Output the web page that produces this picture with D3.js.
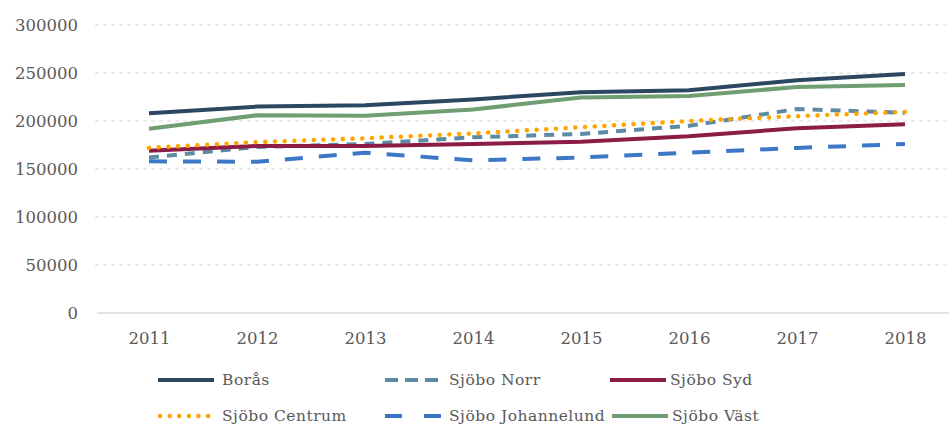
<!DOCTYPE html>
<html><head><meta charset="utf-8">
<script src="https://cdn.jsdelivr.net/npm/d3@7"></script>
<style>body{margin:0;background:#fff}svg{display:block}</style>
</head><body><svg id="c" width="949" height="427"></svg>
<script>
const years = ["2011","2012","2013","2014","2015","2016","2017","2018"];
const yTicks = [0,50000,100000,150000,200000,250000,300000];
const boras       = [208000,215000,216500,222500,230000,232000,242500,249000];
const sjoboNorr   = [162000,173000,176000,183000,186500,195000,212500,208500];
const sjoboSyd    = [169000,174000,174000,176000,178500,184000,192500,196500];
const sjoboCentrum= [172000,178000,182000,187000,193500,200000,205000,209500];
const sjoboJoh    = [158000,157500,167000,159000,162000,167000,172000,176000];
const sjoboVast   = [192000,206000,205500,212000,224500,226000,235500,237500];
const seriesNames = ["Borås","Sjöbo Norr","Sjöbo Syd","Sjöbo Centrum","Sjöbo Johannelund","Sjöbo Väst"];
const seriesData = [boras,sjoboNorr,sjoboSyd,sjoboCentrum,sjoboJoh,sjoboVast];
const colors = ["#2b4761","#5d8ba3","#8c1c46","#ffa500","#3d78c6","#6e9e72"];
const dashes = [null,"10,8",null,"0.1,9.6","18,16",null];

const svg = d3.select("#c");
const font = "DejaVu Serif";
const fs = 16.5;
const x = d3.scalePoint().domain(years).range([149,905]);
const y = d3.scaleLinear().domain([0,300000]).range([313,25]);

// gridlines
svg.append("g").selectAll("line").data(yTicks.filter(d=>d>0)).join("line")
  .attr("x1",95).attr("x2",949).attr("y1",d=>y(d)).attr("y2",d=>y(d))
  .attr("stroke","#d9d9d9").attr("stroke-width",1).attr("stroke-dasharray","4,4");
svg.append("line").attr("x1",97).attr("x2",949).attr("y1",y(0)).attr("y2",y(0))
  .attr("stroke","#d9d9d9").attr("stroke-width",1.5);

// y axis
const ya = svg.append("g").attr("transform","translate(78,0)")
  .call(d3.axisLeft(y).tickValues(yTicks).tickSize(0).tickPadding(0).tickFormat(d3.format("d")));
ya.select(".domain").remove();
ya.selectAll("text").attr("font-family",font).attr("font-size",fs).attr("fill","#595959");

// x axis
const xa = svg.append("g").attr("transform","translate(0,329)")
  .call(d3.axisBottom(x).tickSize(0).tickPadding(0));
xa.select(".domain").remove();
xa.selectAll("text").attr("font-family",font).attr("font-size",fs).attr("fill","#595959").attr("dy","0.9em");

const line = d3.line().x((d,i)=>x(years[i])).y(d=>y(d));
const order = [1,4,2,3,5,0];
order.forEach(k=>{
  const p = svg.append("path").datum(seriesData[k]).attr("d",line)
    .attr("fill","none").attr("stroke",colors[k]).attr("stroke-width",4)
    .attr("stroke-linejoin","round");
  if (k===3) p.attr("stroke-dasharray",dashes[k]).attr("stroke-linecap","round").attr("stroke-width",4.5);
  else if (dashes[k]) p.attr("stroke-dasharray",dashes[k]);
});

// legend
const legPos = [[158,380],[385,380],[610,380],[158,416],[385,416],[612,416]];
seriesNames.forEach((n,k)=>{
  const [lx,ly] = legPos[k];
  const g = svg.append("g");
  const l = g.append("line").attr("x1",lx).attr("x2",lx+56).attr("y1",ly).attr("y2",ly)
    .attr("stroke",colors[k]).attr("stroke-width",4);
  if (k===3) l.attr("stroke-dasharray","0.1,9.5").attr("stroke-linecap","round").attr("stroke-width",4.5).attr("x1",lx+2);
  else if (k===1) l.attr("stroke-dasharray","13,7");
  else if (k===4) l.attr("stroke-dasharray","17,22");
  g.append("text").attr("x",lx+(k===2||k===5?60:64)).attr("y",ly).attr("dy","0.35em")
    .attr("font-family",font).attr("font-size",15.5).attr("fill","#595959")
    .attr("letter-spacing","0.5px").text(n);
});
</script></body></html>
